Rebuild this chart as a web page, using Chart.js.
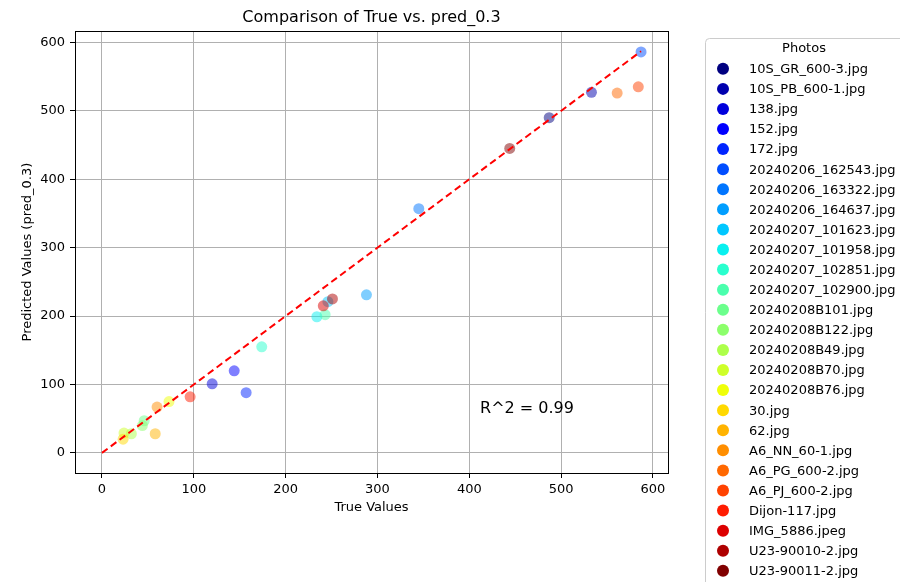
<!DOCTYPE html>
<html>
<head>
<meta charset="utf-8">
<script src="https://cdn.jsdelivr.net/npm/chart.js@4.4.1/dist/chart.umd.min.js"></script>
<style>
  html, body { margin: 0; padding: 0; background: #fff; overflow: hidden; }
  #wrap { width: 900px; height: 582px; }
</style>
</head>
<body>
<div id="wrap"><canvas id="myChart" width="900" height="582"></canvas></div>
<script>
// data
var photos = ["10S_GR_600-3.jpg","10S_PB_600-1.jpg","138.jpg","152.jpg","172.jpg",
  "20240206_162543.jpg","20240206_163322.jpg","20240206_164637.jpg","20240207_101623.jpg",
  "20240207_101958.jpg","20240207_102851.jpg","20240207_102900.jpg","20240208B101.jpg",
  "20240208B122.jpg","20240208B49.jpg","20240208B70.jpg","20240208B76.jpg","30.jpg","62.jpg",
  "A6_NN_60-1.jpg","A6_PG_600-2.jpg","A6_PJ_600-2.jpg","Dijon-117.jpg","IMG_5886.jpeg",
  "U23-90010-2.jpg","U23-90011-2.jpg"];
var trueVals = [487,533,120,144,157,587,345,288,246,234,174,243,46,44,32,24,73,23,58,60,561,584,96,241,251,444];
var predVals = [490,527,101,120,88,586,357,231,221,199,155,202,47,40,28,29,75,20,28,67,526,535,82,215,225,445];
var tickVals = [0,100,200,300,400,500,600];
var r2Text = "R^2 = 0.99";

// matplotlib jet colormap
function jet(t){
    function seg(pts){
        for (var i=1;i<pts.length;i++){
            if (t<=pts[i][0]){
                var a=pts[i-1], b=pts[i];
                return a[1]+(b[1]-a[1])*(t-a[0])/(b[0]-a[0]);
            }
        }
        return pts[pts.length-1][1];
    }
    var r=seg([[0,0],[0.35,0],[0.66,1],[0.89,1],[1,0.5]]);
    var g=seg([[0,0],[0.125,0],[0.375,1],[0.64,1],[0.91,0],[1,0]]);
    var b=seg([[0,0.5],[0.11,1],[0.34,1],[0.65,0],[1,0]]);
    return [Math.round(r*255),Math.round(g*255),Math.round(b*255)];
}
function rgba(c,a){ return 'rgba('+c[0]+','+c[1]+','+c[2]+','+a+')'; }

var maxTrue = Math.max.apply(null, trueVals);
var allX = trueVals.concat([0]);
var allY = predVals.concat([0, maxTrue]);
function range(v){
    var lo=Math.min.apply(null,v), hi=Math.max.apply(null,v), m=(hi-lo)*0.05;
    return [lo-m, hi+m];
}
var xr = range(allX), yr = range(allY);

var datasets = photos.map(function(p,i){
    var c = jet(i/(photos.length-1));
    return {
        type:'scatter',
        label:p,
        data:[{x:trueVals[i], y:predVals[i]}],
        backgroundColor:rgba(c,0.5),
        borderWidth:0,
        pointRadius:5.5,
        order:100-i,
        solid:rgba(c,1)
    };
});
datasets.push({
    type:'line',
    label:'fit',
    data:[{x:0,y:0},{x:maxTrue,y:maxTrue}],
    borderColor:'#ff0000',
    borderWidth:2,
    borderDash:[7,4],
    pointRadius:0,
    fill:false,
    order:0
});

Chart.defaults.font.family = "'DejaVu Sans', sans-serif";
Chart.defaults.color = '#000';

var extras = {
    id:'extras',
    afterDraw:function(chart){
        var ctx = chart.ctx, a = chart.chartArea;
        ctx.save();
        // axes frame
        ctx.strokeStyle = '#000';
        ctx.lineWidth = 1;
        ctx.strokeRect(Math.round(a.left)+0.5, Math.round(a.top)+0.5, Math.round(a.right-a.left), Math.round(a.bottom-a.top));
        // R^2 text
        ctx.fillStyle = '#000';
        ctx.font = "16px 'DejaVu Sans'";
        ctx.textBaseline = 'middle';
        ctx.textAlign = 'left';
        ctx.fillText(r2Text, a.left + 0.683*(a.right-a.left), a.top + 0.855*(a.bottom-a.top));
        // legend
        var lx = 705, ly = 38;
        ctx.beginPath();
        ctx.roundRect(lx+0.5, ly+0.5, 220, 580, 4);
        ctx.fillStyle = '#fff';
        ctx.fill();
        ctx.strokeStyle = '#cccccc';
        ctx.stroke();
        ctx.fillStyle = '#000';
        ctx.font = "13px 'DejaVu Sans'";
        ctx.textAlign = 'center';
        ctx.fillText('Photos', 804, 49);
        ctx.textAlign = 'left';
        chart.data.datasets.forEach(function(ds,i){
            if (ds.type !== 'scatter') return;
            var y = 68.8 + i*20.08;
            ctx.beginPath();
            ctx.arc(723, y, 6, 0, Math.PI*2);
            ctx.fillStyle = ds.solid;
            ctx.fill();
            ctx.fillStyle = '#000';
            ctx.fillText(ds.label, 749, y+1);
        });
        ctx.restore();
    }
};

var ctx = document.getElementById("myChart");
var myChart = new Chart(ctx,{
    type:'scatter',
    data:{ datasets:datasets },
    plugins:[extras],
    options:{
        responsive:false,
        animation:false,
        layout:{ padding:{ top:0, right:232, bottom:0, left:0 } },
        plugins:{
            legend:{ display:false },
            tooltip:{ enabled:false },
            title:{
                display:true,
                text:'Comparison of True vs. pred_0.3',
                fullSize:false,
                font:{ size:16, weight:'normal' },
                color:'#000',
                padding:{ top:8, bottom:4 }
            }
        },
        scales:{
            x:{
                type:'linear',
                min:xr[0], max:xr[1],
                afterBuildTicks:function(s){ s.ticks = tickVals.map(function(v){ return {value:v}; }); },
                afterFit:function(s){ s.height = 109; },
                grid:{ color:'#b0b0b0', lineWidth:1, tickColor:'#000', tickLength:5 },
                border:{ color:'#000', width:1 },
                ticks:{ color:'#000', font:{ size:13 }, padding:4, maxRotation:0 },
                title:{ display:true, text:'True Values', color:'#000', font:{ size:13 }, padding:{ top:0, bottom:67 } }
            },
            y:{
                type:'linear',
                min:yr[0], max:yr[1],
                afterBuildTicks:function(s){ s.ticks = tickVals.map(function(v){ return {value:v}; }); },
                afterFit:function(s){ s.width = 75; },
                grid:{ color:'#b0b0b0', lineWidth:1, tickColor:'#000', tickLength:5 },
                border:{ color:'#000', width:1 },
                ticks:{ color:'#000', font:{ size:13 }, padding:5 },
                title:{ display:true, text:'Predicted Values (pred_0.3)', color:'#000', font:{ size:13 }, padding:{ top:20, bottom:0 } }
            }
        }
    }
});
</script>
</body>
</html>
